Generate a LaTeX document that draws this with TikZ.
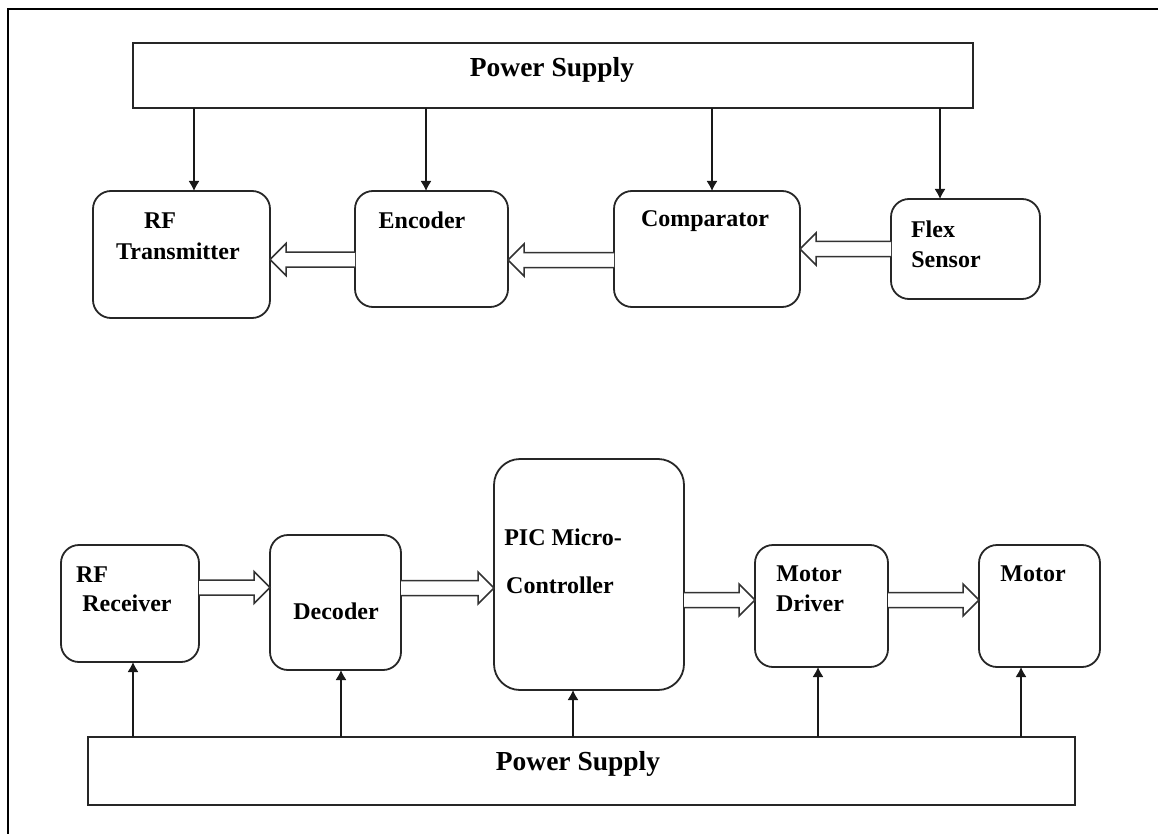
\documentclass[tikz,border=0pt]{standalone}
\usepackage{fontspec}
\setmainfont{Liberation Serif}
\usetikzlibrary{arrows.meta,calc}
\tikzset{
 box/.style={draw=black!85, line width=1.8pt, rounded corners=18pt, inner sep=0pt, outer sep=0pt},
 psbox/.style={draw=black!85, line width=1.8pt, inner sep=0pt, outer sep=0pt},
 lbl/.style={font=\bfseries\fontsize{24}{28}\selectfont, inner sep=0pt, yshift=-2.5pt},
 pslbl/.style={font=\bfseries\fontsize{27.5}{32}\selectfont, inner sep=0pt, yshift=-3pt},
 pw/.style={draw=black!90, line width=1.4pt, -{Latex[length=10pt,width=11pt]}},
 hol/.style={draw=black!80, line width=1.5pt, fill=white, line join=miter},
 frame/.style={draw=black, line width=1.6pt},
}
\newcommand\harrow[4]{%
 \path (#1 |- 0,#3) coordinate (hs) (#2 |- 0,#3) coordinate (ht);
 \draw[hol] ($(hs)+(0,-7.5)$) -- ($(ht)+(#4,-7.5)$) -- ($(ht)+(#4,-16)$) -- (ht)
   -- ($(ht)+(#4,16)$) -- ($(ht)+(#4,7.5)$) -- ($(hs)+(0,7.5)$);}
\begin{document}
\begin{tikzpicture}[x=1pt,y=-1pt]
\useasboundingbox (0,0) rectangle (1158,834);
% frame (only top and left edges visible)
\draw[frame] (8,834) -- (8,9) -- (1158,9);

% ---------- transmitter section ----------
\node[psbox, minimum width=840pt, minimum height=65pt] (ps1) at (553,75.5) {};
\node[pslbl] (ps1l) at (552,67) {Power Supply};

\node[box, minimum width=177pt, minimum height=127pt] (tx) at (181.5,254.5) {};
\node[lbl] (txl1) at (160,218) {RF};
\node[lbl] (txl2) at (178,249) {Transmitter};

\node[box, minimum width=153pt, minimum height=116pt] (enc) at (431.5,249) {};
\node[lbl] (encl) at (422,218) {Encoder};

\node[box, minimum width=186pt, minimum height=116pt] (cmp) at (707,249) {};
\node[lbl] (cmpl) at (705,219) {Comparator};

\node[box, minimum width=149pt, minimum height=100pt] (flex) at (965.5,249) {};
\node[lbl] (flexl1) at (933,227) {Flex};
\node[lbl] (flexl2) at (946,257) {Sensor};

\draw[pw] (ps1.south -| 194,0) -- (tx.north -| 194,0);
\draw[pw] (ps1.south -| 426,0) -- (enc.north -| 426,0);
\draw[pw] (ps1.south -| 712,0) -- (cmp.north -| 712,0);
\draw[pw] (ps1.south -| 940,0) -- (flex.north -| 940,0);

\harrow{enc.west}{tx.east}{259.5}{16}
\harrow{cmp.west}{enc.east}{260}{16}
\harrow{flex.west}{cmp.east}{249}{16}

% ---------- receiver section ----------
\node[psbox, minimum width=987pt, minimum height=68pt] (ps2) at (581.5,771) {};
\node[pslbl] (ps2l) at (578,761) {Power Supply};

\node[box, minimum width=138pt, minimum height=117pt] (rx) at (130,603.5) {};
\node[lbl] (rxl1) at (92,572) {RF};
\node[lbl] (rxl2) at (127,601) {Receiver};

\node[box, minimum width=131pt, minimum height=135pt] (dec) at (335.5,602.5) {};
\node[lbl] (decl) at (336,609) {Decoder};

\node[box, minimum width=190pt, minimum height=231pt, rounded corners=26pt] (pic) at (589,574.5) {};
\node[lbl] (picl1) at (563,535) {PIC Micro-};
\node[lbl] (picl2) at (560,583) {Controller};

\node[box, minimum width=133pt, minimum height=122pt] (drv) at (821.5,606) {};
\node[lbl] (drvl1) at (809,571) {Motor};
\node[lbl] (drvl2) at (810,601) {Driver};

\node[box, minimum width=121pt, minimum height=122pt] (mot) at (1039.5,606) {};
\node[lbl] (motl) at (1033,571) {Motor};

\draw[pw] (ps2.north -| 133,0) -- (rx.south -| 133,0);
\draw[pw] (ps2.north -| 341,0) -- (dec.south -| 341,0);
\draw[pw] (ps2.north -| 573,0) -- (pic.south -| 573,0);
\draw[pw] (ps2.north -| 818,0) -- (drv.south -| 818,0);
\draw[pw] (ps2.north -| 1021,0) -- (mot.south -| 1021,0);

\harrow{rx.east}{dec.west}{587.5}{-16}
\harrow{dec.east}{pic.west}{588}{-16}
\harrow{pic.east}{drv.west}{600}{-16}
\harrow{drv.east}{mot.west}{600}{-16}
\end{tikzpicture}
\end{document}
